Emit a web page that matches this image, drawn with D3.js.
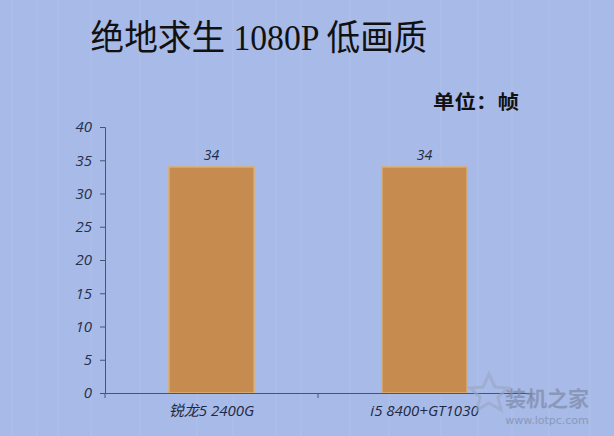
<!DOCTYPE html>
<html><head><meta charset="utf-8">
<script src="https://cdn.jsdelivr.net/npm/d3@7"></script>
<style>body{margin:0;}svg{display:block;}</style>
</head><body>
<svg id="c" width="614" height="436"></svg>
<script>
const categories = ["锐龙5 2400G", "i5 8400+GT1030"];
const values = [34, 34];
const yTicks = [0, 5, 10, 15, 20, 25, 30, 35, 40];
const title = "绝地求生 1080P 低画质";
const unit = "单位：帧";

const svg = d3.select("#c");
const W = 614, H = 436;
const m = {left:105, right:83, top:127, bottom:43};

svg.append("rect").attr("width", W).attr("height", H).attr("fill", "#a8bae7");
// subtle texture stripes
const stripes = [12,37,58,91,140,197,233,276,301,350,389,441,478,512,549,590];
svg.selectAll("line.tex").data(stripes).join("line")
  .attr("x1", d=>d).attr("x2", d=>d).attr("y1",0).attr("y2",H)
  .attr("stroke","#b6c6ec").attr("stroke-width",2).attr("opacity",0.35);

const x = d3.scaleBand().domain(categories).range([m.left, W - m.right]).paddingInner(0.6).paddingOuter(0.3);
const y = d3.scaleLinear().domain([0, 40]).range([H - m.bottom, m.top]);

svg.append("text").attr("x", 259).attr("y", 50).attr("text-anchor","middle")
  .attr("font-family","'Liberation Serif','Noto Sans CJK SC',serif").attr("font-size",35)
  .attr("textLength",337).attr("lengthAdjust","spacingAndGlyphs")
  .attr("fill","#111").text(title);
svg.append("text").attr("x", 476).attr("y", 109).attr("text-anchor","middle")
  .attr("font-family","'Noto Sans CJK SC',sans-serif").attr("font-weight","bold").attr("font-size",19)
  .attr("textLength",86).attr("lengthAdjust","spacingAndGlyphs")
  .attr("fill","#111").text(unit);

// bars
svg.selectAll("rect.bar").data(values).join("rect")
  .attr("x",(d,i)=>x(categories[i])).attr("width",x.bandwidth())
  .attr("y",d=>y(d)).attr("height",d=>y(0)-y(d))
  .attr("fill","#c68c4f").attr("stroke","#d9b07a").attr("stroke-width",1.5);

svg.selectAll("text.val").data(values).join("text")
  .attr("x",(d,i)=>x(categories[i])+x.bandwidth()/2).attr("y",d=>y(d)-7)
  .attr("text-anchor","middle").attr("font-family","'Open Sans',sans-serif").attr("font-style","italic")
  .attr("font-size",14).attr("fill","#1e2a44").text(d=>d);

// y axis
const ya = svg.append("g").attr("transform",`translate(${m.left},0)`)
  .call(d3.axisLeft(y).tickValues(yTicks).tickSize(5).tickPadding(8));
ya.select(".domain").attr("stroke","#4a5470");
ya.selectAll(".tick line").attr("stroke","#4a5470");
ya.selectAll("text").attr("font-family","'Open Sans',sans-serif").attr("font-style","italic")
  .attr("font-size",15).attr("fill","#26304c");

// x axis
const xa = svg.append("g").attr("transform",`translate(0,${y(0)})`)
  .call(d3.axisBottom(x).tickSize(0).tickPadding(12));
xa.select(".domain").attr("stroke","#4a5470");
xa.selectAll("text").attr("font-family","'Open Sans','Noto Sans CJK SC',sans-serif").attr("font-style","italic")
  .attr("font-size",15).attr("fill","#1e2a44");
// category separator ticks
const seps = [m.left, (x(categories[0])+x.bandwidth()+x(categories[1]))/2, W - m.right];
svg.selectAll("line.sep").data(seps).join("line")
  .attr("x1",d=>d).attr("x2",d=>d).attr("y1",y(0)).attr("y2",y(0)+5)
  .attr("stroke","#4a5470");

// watermark
svg.append("text").attr("x",547).attr("y",406).attr("text-anchor","middle")
  .attr("font-family","'Noto Sans CJK SC',sans-serif").attr("font-weight","bold").attr("font-size",21)
  .attr("fill","#7d8aa8").attr("opacity",0.7).text("装机之家");
svg.append("text").attr("x",547).attr("y",424).attr("text-anchor","middle")
  .attr("font-family","'DejaVu Sans',sans-serif").attr("font-size",11)
  .attr("fill","#7d8aa8").attr("opacity",0.7).text("www.lotpc.com");
svg.append("path").attr("d","M483,387 L489,374 L495,387 L508,388 L498,397 L501,410 L489,403 L477,410 L480,397 L470,388 Z")
  .attr("fill","none").attr("stroke","#9aa6c2").attr("stroke-width",3).attr("opacity",0.6);
</script>
</body></html>
